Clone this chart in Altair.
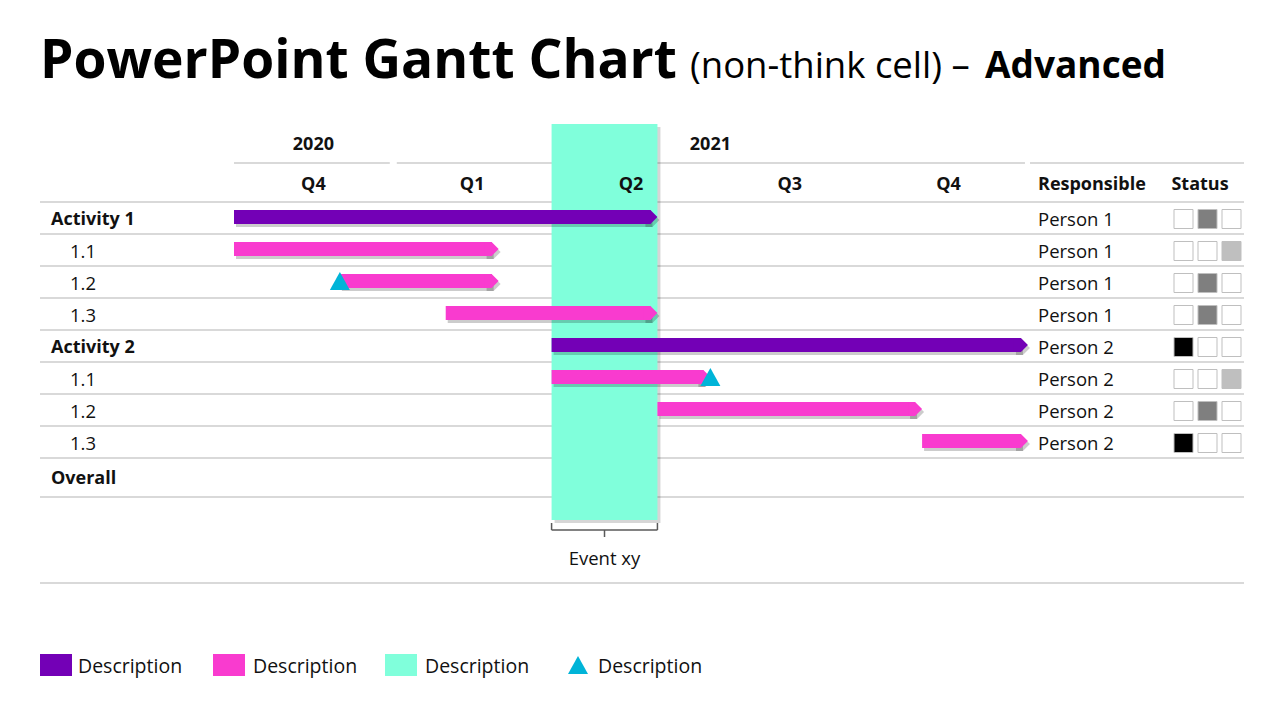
import altair as alt
import pandas as pd

# ---------------- data ----------------
row_labels = ["Activity 1", "1.1", "1.2", "1.3", "Activity 2", "1.1", "1.2", "1.3"]
row_is_activity = [True, False, False, False, True, False, False, False]
bar_start = [0, 0, 2, 4, 6, 6, 8, 13]      # months after 1 Oct 2020
bar_end = [8, 5, 5, 8, 15, 9, 13, 15]
responsible = ["Person 1"] * 4 + ["Person 2"] * 4
status_filled = [1, 2, 1, 1, 0, 2, 1, 0]    # which of the three status boxes is filled
milestone_rows = [2, 5]
milestone_month = [2, 9]
quarter_labels = ["Q4", "Q1", "Q2", "Q3", "Q4"]
year_labels = ["2020", "2021"]
year_start = [0, 3]
year_end = [3, 15]
event_label = "Event xy"
event_start = 6
event_end = 8
legend_labels = ["Description", "Description", "Description", "Description"]

# ---------------- style / layout ----------------
FONT = "Open Sans"
PURPLE = "#7300B6"
PINK = "#F93BCF"
TEAL = "#80FFDB"
CYAN = "#00B4D8"
GRID = "#D9D9D9"
TEXT = "#111111"
STATUS_COLORS = ["#000000", "#7F7F7F", "#BFBFBF"]

W, H = 1264, 704
X0, MW = 234.0, 52.93         # page x of month 0, pixels per month
Y0, RH = 218.0, 32.0          # page y of row 0 centre, row height


def mx(px):
    return (px - X0) / MW


def ry(py):
    return (py - Y0) / RH


xs = alt.Scale(domain=[mx(8), mx(8 + W)], nice=False, zero=False)
ys = alt.Scale(domain=[ry(8), ry(8 + H)], nice=False, zero=False, reverse=True)


def X(f):
    return alt.X(f, type="quantitative", scale=xs, axis=None)


def X2(f):
    return alt.X2(f)


def Y(f):
    return alt.Y(f, type="quantitative", scale=ys, axis=None)


def Y2(f):
    return alt.Y2(f)


layers = []

# ---- grid lines ----
grid_y = [ry(202 + RH * k) for k in range(9)] + [ry(497), ry(583)]
grid_df = pd.DataFrame({"y": grid_y, "x": mx(40), "x2": mx(1244)})
layers.append(alt.Chart(grid_df).mark_rule(color=GRID, strokeWidth=2).encode(
    x=X("x"), x2=X2("x2"), y=Y("y")))

# header line segments under years + right-hand header
seg = []
for i, (s, e) in enumerate(zip(year_start, year_end)):
    a = X0 + s * MW + (0 if i == 0 else 4)
    b = X0 + e * MW - 3
    seg.append((mx(a), mx(b)))
seg.append((mx(1030), mx(1244)))
hdr_df = pd.DataFrame({"x": [s[0] for s in seg], "x2": [s[1] for s in seg], "y": ry(163)})
layers.append(alt.Chart(hdr_df).mark_rule(color=GRID, strokeWidth=2).encode(
    x=X("x"), x2=X2("x2"), y=Y("y")))

# ---- event band ----
band_df = pd.DataFrame({"x": [event_start], "x2": [event_end], "y": [ry(124)], "y2": [ry(520)]})
layers.append(alt.Chart(band_df).mark_rect(color="#000000", opacity=0.16, xOffset=3, x2Offset=3,
                                            yOffset=3, y2Offset=3).encode(
    x=X("x"), x2=X2("x2"), y=Y("y"), y2=Y2("y2")))
layers.append(alt.Chart(band_df).mark_rect(color=TEAL, opacity=1).encode(
    x=X("x"), x2=X2("x2"), y=Y("y"), y2=Y2("y2")))

# bracket under the band
br_df = pd.DataFrame({
    "x": [event_start, event_start, event_end, (event_start + event_end) / 2],
    "x2": [event_end, event_start, event_end, (event_start + event_end) / 2],
    "y": [ry(530), ry(523), ry(523), ry(530)],
    "y2": [ry(530), ry(530), ry(530), ry(537)],
})
layers.append(alt.Chart(br_df).mark_rule(color="#595959", strokeWidth=1.5).encode(
    x=X("x"), x2=X2("x2"), y=Y("y"), y2=Y2("y2")))
ev_df = pd.DataFrame({"x": [(event_start + event_end) / 2], "y": [ry(559)], "t": [event_label]})
layers.append(alt.Chart(ev_df).mark_text(font=FONT, fontSize=18.5, color=TEXT, align="center",
                                          baseline="middle").encode(
    x=X("x"), y=Y("y"), text="t:N"))

# ---- bars ----
bars_df = pd.DataFrame({
    "row": list(range(len(row_labels))),
    "start": bar_start,
    "end": bar_end,
    "kind": ["a" if a else "t" for a in row_is_activity],
})
ARROW = "M-1,-1L0,-1L1,0L0,1L-1,1Z"
# shadow
layers.append(alt.Chart(bars_df).mark_rule(color="#000000", opacity=0.2, strokeWidth=14,
                                            strokeCap="butt", xOffset=2, x2Offset=-5,
                                            yOffset=2).encode(
    x=X("start"), x2=X2("end"), y=Y("row")))
layers.append(alt.Chart(bars_df).mark_point(shape=ARROW, size=196, filled=True, color="#000000",
                                             opacity=0.2, strokeWidth=0, xOffset=-5,
                                             yOffset=2).encode(
    x=X("end"), y=Y("row")))
for kind, col in (("a", PURPLE), ("t", PINK)):
    sub = bars_df[bars_df["kind"] == kind]
    layers.append(alt.Chart(sub).mark_rule(color=col, strokeWidth=14, strokeCap="butt",
                                            x2Offset=-7, yOffset=-1).encode(
        x=X("start"), x2=X2("end"), y=Y("row")))
    layers.append(alt.Chart(sub).mark_point(shape=ARROW, size=196, filled=True, color=col,
                                             opacity=1, strokeWidth=0, xOffset=-7,
                                             yOffset=-1).encode(
        x=X("end"), y=Y("row")))

# ---- milestones ----
TRI = "M0,-1L1,0.8L-1,0.8Z"
ms_df = pd.DataFrame({"row": milestone_rows, "m": milestone_month})
layers.append(alt.Chart(ms_df).mark_point(shape=TRI, size=400, filled=True, color=CYAN,
                                           opacity=1, strokeWidth=0).encode(
    x=X("m"), y=Y("row")))

# ---- header texts ----
yr_df = pd.DataFrame({"t": year_labels,
                      "x": [(s + e) / 2 for s, e in zip(year_start, year_end)],
                      "y": ry(143)})
layers.append(alt.Chart(yr_df).mark_text(font=FONT, fontSize=18, fontWeight="bold", color=TEXT,
                                          align="center", baseline="middle", dy=1.5).encode(
    x=X("x"), y=Y("y"), text="t:N"))
q_df = pd.DataFrame({"t": quarter_labels,
                     "x": [1.5 + 3 * i for i in range(len(quarter_labels))],
                     "y": ry(183)})
layers.append(alt.Chart(q_df).mark_text(font=FONT, fontSize=18, fontWeight="bold", color=TEXT,
                                         align="center", baseline="middle", dy=1.5).encode(
    x=X("x"), y=Y("y"), text="t:N"))
hd_df = pd.DataFrame({"t": ["Responsible", "Status"], "x": [mx(1038), mx(1200)], "y": ry(183)})
layers.append(alt.Chart(hd_df.iloc[[0]]).mark_text(font=FONT, fontSize=18, fontWeight="bold",
                                                    color=TEXT, align="left",
                                                    baseline="middle", dy=1.5).encode(
    x=X("x"), y=Y("y"), text="t:N"))
layers.append(alt.Chart(hd_df.iloc[[1]]).mark_text(font=FONT, fontSize=18, fontWeight="bold",
                                                    color=TEXT, align="center",
                                                    baseline="middle", dy=1.5).encode(
    x=X("x"), y=Y("y"), text="t:N"))

# ---- row labels ----
rl_df = pd.DataFrame({"t": row_labels + ["Overall"],
                      "row": list(range(len(row_labels))) + [ry(477)],
                      "act": row_is_activity + [True]})
rl_df["x"] = [mx(51) if a else mx(70) for a in rl_df["act"]]
layers.append(alt.Chart(rl_df[rl_df["act"]]).mark_text(font=FONT, fontSize=18, fontWeight="bold",
                                                        color=TEXT, align="left",
                                                        baseline="middle", dy=1.5).encode(
    x=X("x"), y=Y("row"), text="t:N"))
layers.append(alt.Chart(rl_df[~rl_df["act"]]).mark_text(font=FONT, fontSize=18.5, color=TEXT,
                                                         align="left",
                                                         baseline="middle", dy=1.5).encode(
    x=X("x"), y=Y("row"), text="t:N"))

# responsible
rp_df = pd.DataFrame({"t": responsible, "row": list(range(len(responsible))), "x": mx(1038)})
layers.append(alt.Chart(rp_df).mark_text(font=FONT, fontSize=18.5, color=TEXT, align="left",
                                          baseline="middle", dy=1.5).encode(
    x=X("x"), y=Y("row"), text="t:N"))

# status boxes
st_rows = []
for r, f in enumerate(status_filled):
    for j in range(3):
        st_rows.append({"row": r, "x": mx(1183.5 + 24 * j),
                        "fill": STATUS_COLORS[j] if j == f else "#FFFFFF"})
st_df = pd.DataFrame(st_rows)
layers.append(alt.Chart(st_df).mark_square(size=361, opacity=1, stroke="#BFBFBF",
                                            strokeWidth=1, yOffset=1).encode(
    x=X("x"), y=Y("row"), fill=alt.Fill("fill:N", scale=None)))

# ---- legend ----
lg_sw = pd.DataFrame({"x": [mx(40), mx(213), mx(385)], "x2": [mx(72), mx(245), mx(417)],
                      "y": ry(654), "y2": ry(676), "c": [PURPLE, PINK, TEAL]})
layers.append(alt.Chart(lg_sw).mark_rect(opacity=1).encode(
    x=X("x"), x2=X2("x2"), y=Y("y"), y2=Y2("y2"), fill=alt.Fill("c:N", scale=None)))
lg_tri = pd.DataFrame({"x": [mx(578)], "y": [ry(666)]})
layers.append(alt.Chart(lg_tri).mark_point(shape=TRI, size=400, filled=True, color=CYAN,
                                            opacity=1, strokeWidth=0).encode(
    x=X("x"), y=Y("y")))
lg_tx = pd.DataFrame({"t": legend_labels, "x": [mx(78), mx(253), mx(425), mx(598)],
                      "y": ry(665)})
layers.append(alt.Chart(lg_tx).mark_text(font=FONT, fontSize=19.5, color=TEXT, align="left",
                                          baseline="middle", dy=1.5).encode(
    x=X("x"), y=Y("y"), text="t:N"))

# ---- title ----
ttl = pd.DataFrame({"t": ["PowerPoint Gantt Chart"], "x": [mx(40)], "y": [ry(78)]})
layers.append(alt.Chart(ttl).mark_text(font=FONT, fontSize=53.3, fontWeight="bold",
                                        color="#000000", align="left",
                                        baseline="alphabetic").encode(
    x=X("x"), y=Y("y"), text="t:N"))
ttl2 = pd.DataFrame({"t": ["(non-think cell) \u2013"], "x": [mx(690)], "y": [ry(78)]})
layers.append(alt.Chart(ttl2).mark_text(font=FONT, fontSize=36.5, color="#000000", align="left",
                                         baseline="alphabetic").encode(
    x=X("x"), y=Y("y"), text="t:N"))
ttl3 = pd.DataFrame({"t": ["Advanced"], "x": [mx(985)], "y": [ry(78)]})
layers.append(alt.Chart(ttl3).mark_text(font=FONT, fontSize=37, fontWeight="bold",
                                         color="#000000", align="left",
                                         baseline="alphabetic").encode(
    x=X("x"), y=Y("y"), text="t:N"))

chart = alt.layer(*layers).properties(
    width=W, height=H, padding=0, autosize="none", background="#FFFFFF"
).configure_view(strokeWidth=0)

chart.save("out.html", embed_options={"renderer": "svg", "actions": False})
